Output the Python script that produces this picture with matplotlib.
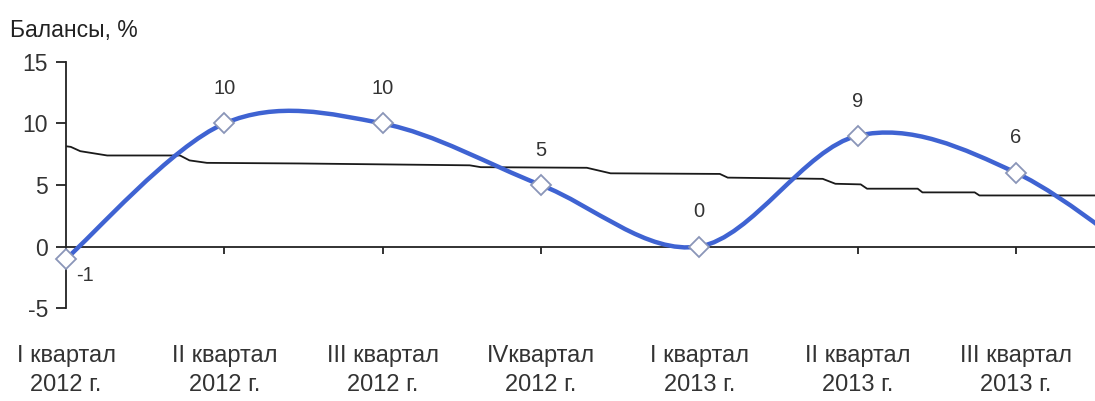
import numpy as np
import matplotlib
matplotlib.use("Agg")
import matplotlib.pyplot as plt
from matplotlib.path import Path
from matplotlib.patches import PathPatch

plt.rcParams['font.family'] = ['Liberation Sans', 'DejaVu Sans']
plt.rcParams['axes.unicode_minus'] = False

# ---- data ----
categories = ["I квартал\n2012 г.", "II квартал\n2012 г.", "III квартал\n2012 г.",
              "IVквартал\n2012 г.", "I квартал\n2013 г.", "II квартал\n2013 г.",
              "III квартал\n2013 г."]
balance = [-1, 10, 10, 5, 0, 9, 6]
balance_next = -3          # next (clipped) point beyond the right edge
labels = ["-1", "10", "10", "5", "0", "9", "6"]

# thin trend line (x in category units, y in %)
trend_x = [0.00, 0.03, 0.09, 0.26, 0.72, 0.78, 0.89, 1.48, 2.55, 2.62, 3.29, 3.44,
           4.13, 4.18, 4.78, 4.86, 5.02, 5.06, 5.38, 5.41, 5.74, 5.77, 6.50]
trend_y = [8.15, 8.10, 7.75, 7.40, 7.40, 7.00, 6.80, 6.75, 6.60, 6.45, 6.40, 5.95,
           5.90, 5.60, 5.50, 5.10, 5.05, 4.70, 4.70, 4.40, 4.40, 4.15, 4.15]

# ---- figure ----
fig = plt.figure(figsize=(10.95, 4.01), dpi=100)
ax = fig.add_axes([0.0603, 0.2319, 0.9397, 0.6135])
ax.set_xlim(0, 6.5)
ax.set_ylim(-5, 15)

blue = '#3f63d2'

# smoothed (Excel-like Catmull-Rom Bezier) blue line
ys = balance + [balance_next]
pts = np.array([[i, v] for i, v in enumerate(ys)], dtype=float)
n = len(pts)
verts = [pts[0]]
codes = [Path.MOVETO]
for i in range(n - 1):
    p_prev = pts[i - 1] if i > 0 else pts[i]
    p_next2 = pts[i + 2] if i + 2 < n else pts[i + 1]
    c1 = pts[i] + (pts[i + 1] - p_prev) / 6.0
    c2 = pts[i + 1] - (p_next2 - pts[i]) / 6.0
    verts += [c1, c2, pts[i + 1]]
    codes += [Path.CURVE4] * 3
patch = PathPatch(Path(verts, codes), facecolor='none', edgecolor=blue,
                  lw=3.2, capstyle='round', joinstyle='round', zorder=3)
ax.add_patch(patch)

# trend line
ax.plot(trend_x, trend_y, color='#1a1a1a', lw=1.3, zorder=2)

# markers
x_idx = np.arange(len(balance))
ax.plot(x_idx, balance, linestyle='none', marker='D', markersize=10,
        markerfacecolor='white', markeredgecolor='#8a96b8', markeredgewidth=1.3,
        zorder=4, clip_on=False)

# data labels
for i, (v, t) in enumerate(zip(balance, labels)):
    if v < 0:
        ax.annotate(t, (i, v), xytext=(14, -12), textcoords='offset points',
                    ha='center', va='center', fontsize=14.5, color='#333333')
    else:
        ax.annotate(t, (i, v), xytext=(0, 25), textcoords='offset points',
                    ha='center', va='center', fontsize=14.5, color='#333333')

# axes styling
for s in ['top', 'right']:
    ax.spines[s].set_visible(False)
ax.spines['bottom'].set_position(('data', 0))
ax.spines['bottom'].set_color('#222222')
ax.spines['left'].set_color('#222222')
ax.spines['bottom'].set_linewidth(1.3)
ax.spines['left'].set_linewidth(1.3)

ax.set_yticks([-5, 0, 5, 10, 15])
ax.tick_params(axis='y', length=7, width=1.3, pad=6, labelsize=16.5,
               labelcolor='#333333', color='#222222')
ax.set_xticks(x_idx)
ax.set_xticklabels(categories, linespacing=1.42)
ax.tick_params(axis='x', length=5, width=1.3, pad=66, labelsize=17,
               labelcolor='#333333', color='#222222')

fig.text(0.009, 0.925, "Балансы, %", fontsize=16.5, color='#222222',
         ha='left', va='center')

fig.savefig('out.png', dpi=100)
